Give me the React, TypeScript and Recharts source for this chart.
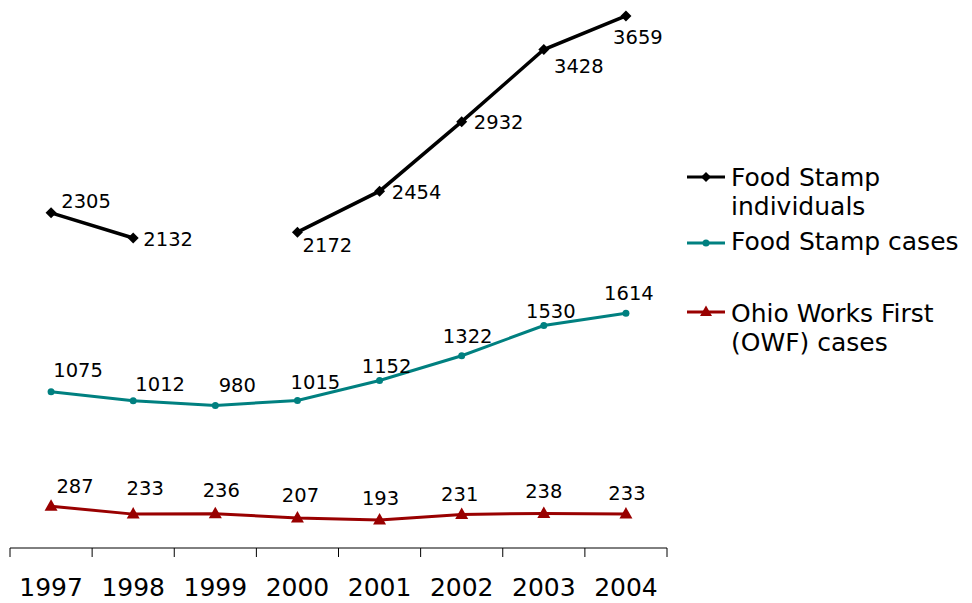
import React from 'react';
import { LineChart, Line, XAxis, YAxis, LabelList } from 'recharts';

const years = ['1997', '1998', '1999', '2000', '2001', '2002', '2003', '2004'];
const foodStampIndividuals: (number | null)[] = [2305, 2132, null, 2172, 2454, 2932, 3428, 3659];
const foodStampCases = [1075, 1012, 980, 1015, 1152, 1322, 1530, 1614];
const owfCases = [287, 233, 236, 207, 193, 231, 238, 233];

// label placement (layout only)
const fsiDx = [35, 35, 0, 30, 37, 37, 35, 12];
const fsiDy = [-11, 2, 0, 13, 1, 1, 17, 22];
const fscDx = [27, 27, 22, 18, 7, 6, 7, 3];
const fscDy = [-21, -16, -20, -18, -14, -19, -14, -20];
const owfDx = [24, 12, 6, 3, 1, -2, 0, 1];
const owfDy = [-20, -26, -23, -22, -21, -20, -22, -21];

const data = years.map((y, i) => ({
  year: y,
  fsi: foodStampIndividuals[i],
  fsc: foodStampCases[i],
  owf: owfCases[i],
}));

const W = 972;
const H = 603;
const M = { top: 10, right: 305, bottom: 0, left: 10 };
const PLOT_W = W - M.left - M.right;
const BAND = PLOT_W / years.length;
const FONT = '"DejaVu Sans", Verdana, sans-serif';

const BLACK = '#000000';
const TEAL = '#008080';
const RED = '#990000';

const Tick = (props: any) => {
  const { x, y, payload, index } = props;
  const last = index === years.length - 1;
  return (
    <g>
      <line x1={x - BAND / 2} x2={x - BAND / 2} y1={y} y2={y + 9} stroke="#000" strokeWidth={1} />
      {last && <line x1={x + BAND / 2} x2={x + BAND / 2} y1={y} y2={y + 9} stroke="#000" strokeWidth={1} />}
      <text x={x} y={y + 48} textAnchor="middle" fontSize={25} fontFamily={FONT} fill="#000">
        {payload.value}
      </text>
    </g>
  );
};

const makeLabel = (dxs: number[], dys: number[]) => (props: any) => {
  const { x, y, value, index } = props;
  if (value == null || x == null || y == null) return null;
  return (
    <text
      x={x + dxs[index]}
      y={y + dys[index]}
      textAnchor="middle"
      dominantBaseline="central"
      fontSize={19.5}
      fontFamily={FONT}
      fill="#000"
    >
      {value}
    </text>
  );
};

const Diamond = (props: any) => {
  const { cx, cy, index } = props;
  if (cx == null || cy == null) return <g key={`d${index}`} />;
  const r = 5.5;
  return (
    <path
      key={`d${index}`}
      d={`M${cx},${cy - r}L${cx + r},${cy}L${cx},${cy + r}L${cx - r},${cy}Z`}
      fill={BLACK}
    />
  );
};

const Circle = (props: any) => {
  const { cx, cy, index } = props;
  if (cx == null || cy == null) return <g key={`c${index}`} />;
  return <circle key={`c${index}`} cx={cx} cy={cy} r={3.5} fill={TEAL} />;
};

const Triangle = (props: any) => {
  const { cx, cy, index } = props;
  if (cx == null || cy == null) return <g key={`t${index}`} />;
  return (
    <path
      key={`t${index}`}
      d={`M${cx},${cy - 7}L${cx + 6.5},${cy + 4.5}L${cx - 6.5},${cy + 4.5}Z`}
      fill={RED}
    />
  );
};

const LegendIcon = ({ color, kind }: { color: string; kind: string }) => (
  <svg width={40} height={14} style={{ position: 'absolute', left: 0, top: -7 }}>
    <line x1={1} x2={39} y1={7} y2={7} stroke={color} strokeWidth={3} />
    {kind === 'diamond' && <path d="M20,2L25,7L20,12L15,7Z" fill={color} />}
    {kind === 'circle' && <circle cx={20} cy={7} r={3.5} fill={color} />}
    {kind === 'triangle' && <path d="M20,0.5L26,11L14,11Z" fill={color} />}
  </svg>
);

const legendItems = [
  { label: ['Food Stamp', 'individuals'], color: BLACK, kind: 'diamond', iconY: 177, textTop: 163 },
  { label: ['Food Stamp cases'], color: TEAL, kind: 'circle', iconY: 243, textTop: 227 },
  { label: ['Ohio Works First', '(OWF) cases'], color: RED, kind: 'triangle', iconY: 312, textTop: 299 },
];

export default function App() {
  return (
    <div style={{ position: 'absolute', left: 0, top: 0, width: W, height: H, background: '#fff' }}>
      <LineChart width={W} height={H} data={data} margin={M}>
        <XAxis
          dataKey="year"
          axisLine={{ stroke: '#000', strokeWidth: 1 }}
          tickLine={false}
          tickSize={0}
          tickMargin={0}
          height={55}
          tick={<Tick />}
          interval={0}
          padding={{ left: BAND / 2, right: BAND / 2 }}
        />
        <YAxis hide domain={[0, 3700]} />
        <Line
          dataKey="fsi"
          stroke={BLACK}
          strokeWidth={3.5}
          dot={<Diamond />}
          activeDot={false}
          isAnimationActive={false}
          connectNulls={false}
        >
          <LabelList dataKey="fsi" content={makeLabel(fsiDx, fsiDy)} />
        </Line>
        <Line
          dataKey="fsc"
          stroke={TEAL}
          strokeWidth={3}
          dot={<Circle />}
          activeDot={false}
          isAnimationActive={false}
        >
          <LabelList dataKey="fsc" content={makeLabel(fscDx, fscDy)} />
        </Line>
        <Line
          dataKey="owf"
          stroke={RED}
          strokeWidth={3}
          dot={<Triangle />}
          activeDot={false}
          isAnimationActive={false}
        >
          <LabelList dataKey="owf" content={makeLabel(owfDx, owfDy)} />
        </Line>
      </LineChart>
      {legendItems.map((it) => (
        <div key={it.label[0]}>
          <div style={{ position: 'absolute', left: 686, top: it.iconY }}>
            <LegendIcon color={it.color} kind={it.kind} />
          </div>
          <div
            style={{
              position: 'absolute',
              left: 731,
              top: it.textTop,
              fontFamily: FONT,
              fontSize: 25,
              lineHeight: '29px',
              color: '#000',
              whiteSpace: 'nowrap',
            }}
          >
            {it.label.map((l) => (
              <div key={l}>{l}</div>
            ))}
          </div>
        </div>
      ))}
    </div>
  );
}
